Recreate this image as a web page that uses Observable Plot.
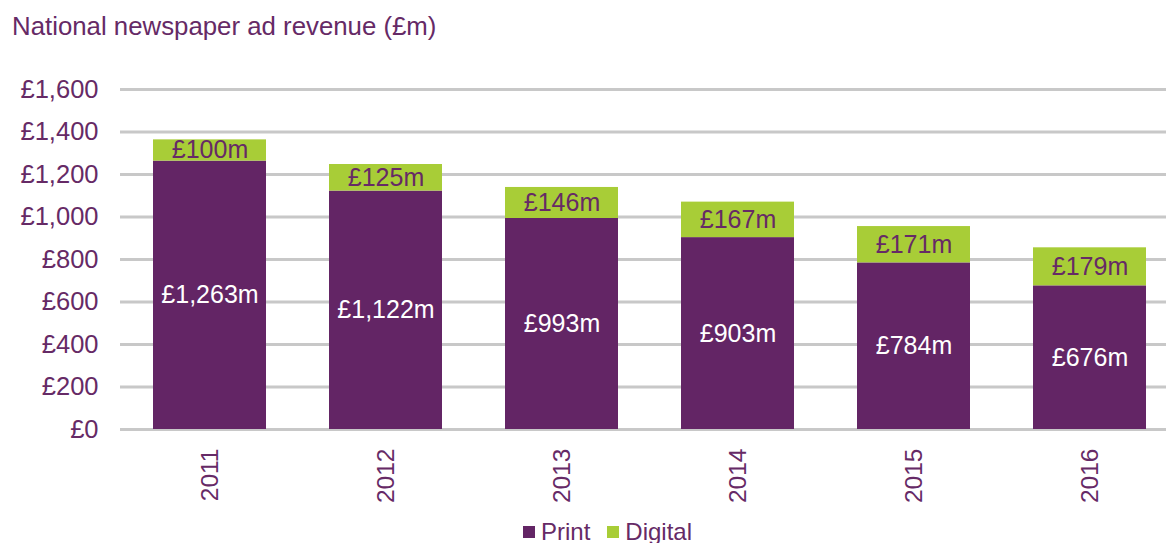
<!DOCTYPE html>
<html>
<head>
<meta charset="utf-8">
<script src="https://cdn.jsdelivr.net/npm/d3@7"></script>
<script src="https://cdn.jsdelivr.net/npm/@observablehq/plot@0.6"></script>
<style>
  html, body { margin: 0; padding: 0; background: #fff; }
  body { width: 1166px; height: 543px; position: relative; overflow: hidden; font-family: "Liberation Sans", Arial, sans-serif; color: #662a66; }
  #title { position: absolute; left: 12px; top: 12px; font-size: 25.8px; line-height: 29px; white-space: nowrap; }
  #chart { position: absolute; left: 0; top: 50px; }
  #legend { position: absolute; left: 523px; top: 518px; display: flex; align-items: center; font-size: 24px; line-height: 28px; }
  #legend .sw { width: 12px; height: 12px; display: inline-block; margin-right: 6px; }
  #legend .item { display: flex; align-items: center; margin-right: 17px; }
</style>
</head>
<body>
<div id="title">National newspaper ad revenue (£m)</div>
<div id="chart"></div>
<div id="legend"></div>
<script>
const years = ["2011", "2012", "2013", "2014", "2015", "2016"];
const printValues = [1263, 1122, 993, 903, 784, 676];
const digitalValues = [100, 125, 146, 167, 171, 179];
const seriesNames = ["Print", "Digital"];
const seriesColors = ["#632565", "#a8cd37"];
const yTicks = [0, 200, 400, 600, 800, 1000, 1200, 1400, 1600];

const rows = [];
years.forEach((yr, i) => {
  rows.push({year: yr, series: "Print", value: printValues[i]});
  rows.push({year: yr, series: "Digital", value: digitalValues[i]});
});
const fmt = d3.format(",");
const textColor = "#662a66";
const labelFor = s => d => d.series === s ? "£" + fmt(d.value) + "m" : null;

const chart = Plot.plot({
  width: 1166,
  height: 493,
  marginLeft: 120,
  marginRight: 0,
  marginTop: 39,
  marginBottom: 114,
  style: {fontFamily: "'Liberation Sans', Arial, sans-serif", fontSize: "25px", color: textColor, background: "transparent"},
  x: {domain: years, range: [120, 1178], paddingInner: 0.36, paddingOuter: 0.18, label: null},
  y: {domain: [0, 1600], label: null},
  color: {domain: seriesNames, range: seriesColors},
  marks: [
    Plot.ruleY(yTicks, {stroke: "#c8c8c8", strokeWidth: 3}),
    Plot.axisY({ticks: yTicks, tickSize: 0, tickPadding: 22, tickFormat: d => "£" + fmt(d), label: null, fontSize: 25.5}),
    Plot.axisX({tickSize: 0, tickPadding: 19, tickRotate: -90, label: null, fontSize: 24.5}),
    Plot.barY(rows, {x: "year", y: "value", fill: "series", z: "series", order: seriesNames}),
    Plot.text(rows, Plot.stackY({x: "year", y: "value", z: "series", order: seriesNames, text: labelFor("Print"), fill: "white", fontSize: 25})),
    Plot.text(rows, Plot.stackY({x: "year", y: "value", z: "series", order: seriesNames, text: labelFor("Digital"), fill: textColor, fontSize: 25}))
  ]
});
document.getElementById("chart").appendChild(chart);

const legend = document.getElementById("legend");
seriesNames.forEach((name, i) => {
  const item = document.createElement("span");
  item.className = "item";
  item.innerHTML = `<span class="sw" style="background:${seriesColors[i]}"></span><span>${name}</span>`;
  legend.appendChild(item);
});
</script>
</body>
</html>
